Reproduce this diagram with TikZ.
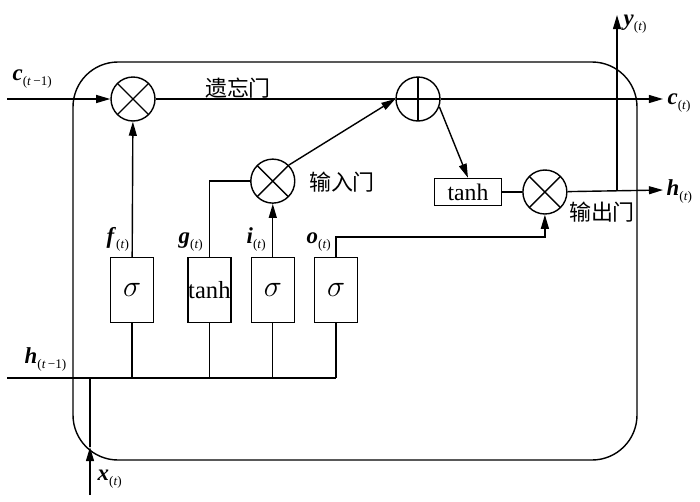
\documentclass[tikz,border=0pt]{standalone}
\usepackage{fontspec}
\setmainfont{Liberation Serif}
\newfontfamily\cjk{Noto Sans CJK SC}
\usepackage{tikz}
\usetikzlibrary{arrows.meta, positioning, calc}

\newcommand{\vsub}[2]{\textbf{\textit{#1}}\raisebox{-0.5ex}{\fontsize{7.5}{8}\selectfont(#2)}}

\begin{document}
\begin{tikzpicture}[
    x=0.02cm, y=-0.02cm,
    line width=0.8pt,
    font=\fontsize{13}{15}\selectfont,
    gate/.style={rectangle, draw, inner sep=0pt, minimum width=0.86cm, minimum height=1.3cm, align=center,
        font=\fontsize{14}{16}\selectfont},
    mul/.style={circle, draw, inner sep=0pt, minimum size=0.88cm,
        path picture={\draw (path picture bounding box.south west) -- (path picture bounding box.north east)
            (path picture bounding box.north west) -- (path picture bounding box.south east);}},
    addop/.style={circle, draw, inner sep=0pt, minimum size=0.88cm,
        path picture={\draw (path picture bounding box.north) -- (path picture bounding box.south)
            (path picture bounding box.west) -- (path picture bounding box.east);}},
    cn/.style={font=\cjk\fontsize{12.5}{14}\selectfont},
    lbl/.style={anchor=base west, inner sep=0pt},
    arrow/.style={-{Triangle[length=8pt, width=4.5pt]}},
]
\useasboundingbox (0,0) rectangle (700,501);

% cell border
\draw[rounded corners=0.9cm] (73,62) rectangle (637,460);

% gates
\node[gate] (fbox) at (132,290) {\fontsize{17}{18}\selectfont$\sigma$};
\node[gate, right=0.66cm of fbox] (gbox) {tanh};
\node[gate, right=0.38cm of gbox] (ibox) {\fontsize{17}{18}\selectfont$\sigma$};
\node[gate, right=0.38cm of ibox] (obox) {\fontsize{17}{18}\selectfont$\sigma$};

% operators
\node[mul] (fmul) at (133,99) {};
\node[addop] (cplus) at (418,99) {};
\node[mul, above=1.06cm of ibox] (imul) {};
\node[rectangle, draw, minimum width=1.34cm, minimum height=0.54cm, inner sep=0pt,
      font=\fontsize{13.5}{15}\selectfont] (tanhc) at (468,192) {tanh};
\node[mul, right=0.4cm of tanhc] (omul) {};

% ends
\coordinate (cin) at (7,99);
\coordinate (cout) at (663,99);
\coordinate (hin) at (7,378);
\coordinate (hout) at (663,190);
\coordinate (ysplit) at (617,190);
\coordinate (yout) at (617,15);
\coordinate (xin) at (90,495);
\coordinate (xmid) at (90,447);
\coordinate (hjoin) at (90,378);

% cell state
\draw[arrow] (cin) -- (fmul);
\draw (fmul) -- (cplus);
\draw[arrow] (cplus) -- (cout);

% inputs
\draw (hin) -- (obox.south |- hin);
\foreach \g in {fbox, gbox, ibox, obox}
    \draw (\g.south) -- (\g.south |- hin);
\draw[arrow] (xin) -- (xmid);
\draw (xmid) -- (hjoin);

% gate outputs
\draw[arrow] (fbox) -- (fmul);
\draw (gbox.north) |- (imul.west);
\draw[arrow] (ibox) -- (imul);
\draw[arrow] (imul.north east) -- (cplus.west);
\draw[arrow] (cplus.-20) -- (tanhc.north);
\draw (tanhc) -- (omul);
\draw[arrow] (obox.north) -- ++(0,-20) -| (omul.south);
\draw[arrow] (omul) -- (hout);
\draw[arrow] (ysplit) -- (yout);

% labels
\node[lbl] at (12,80) {\vsub{c}{\textit{t}\,−1}};
\node[lbl] at (667,104) {\vsub{c}{\textit{t}}};
\node[lbl] at (666,195) {\vsub{h}{\textit{t}}};
\node[lbl] at (623,25) {\vsub{y}{\textit{t}}};
\node[lbl] at (24,363) {\vsub{h}{\textit{t}\,−1}};
\node[lbl] at (97,480) {\vsub{x}{\textit{t}}};
\node[lbl] at (106,243) {\vsub{f}{\textit{t}}};
\node[lbl] at (178,243) {\vsub{g}{\textit{t}}};
\node[lbl] at (246,243) {\vsub{i}{\textit{t}}};
\node[lbl] at (306,243) {\vsub{o}{\textit{t}}};
\node[cn] (forgetlbl) at (238,88) {遗忘门};
\node[cn] (inputlbl) at (342,182) {输入门};
\node[cn] (outputlbl) at (602,212) {输出门};

\end{tikzpicture}
\end{document}
